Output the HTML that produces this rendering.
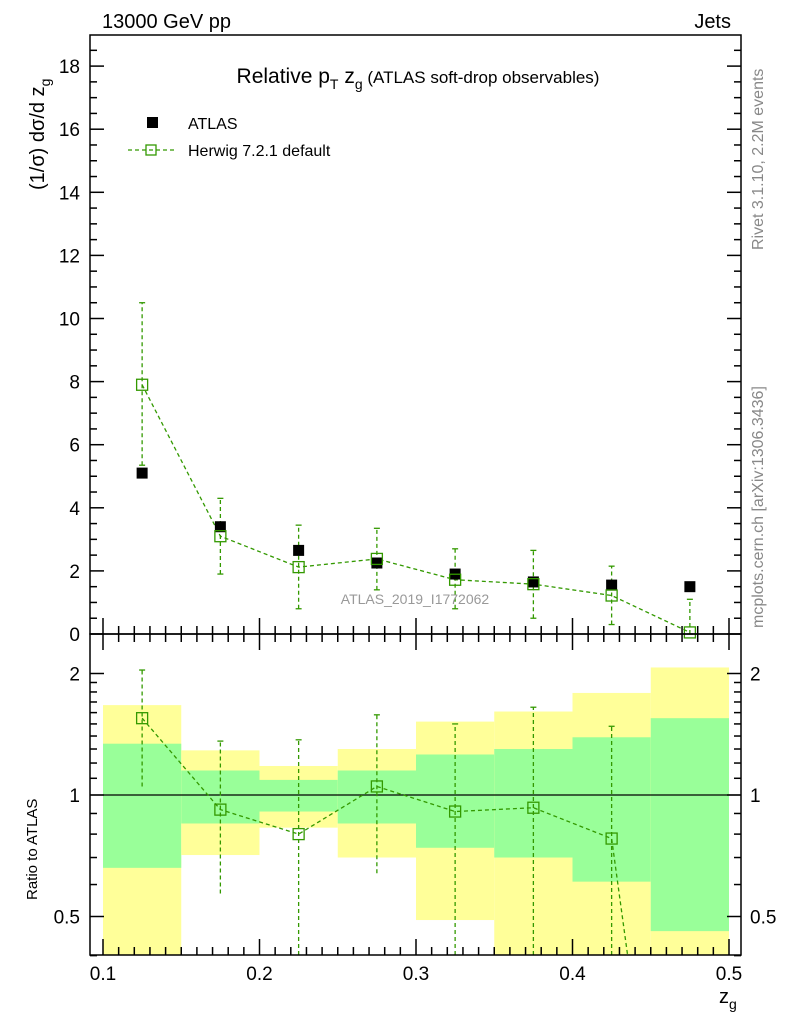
<!DOCTYPE html>
<html><head><meta charset="utf-8"><style>
html,body{margin:0;padding:0;background:#fff;width:786px;height:1024px;overflow:hidden;}
svg{font-family:"Liberation Sans",sans-serif;display:block;}
</style></head><body>
<svg id="c" width="786" height="1024" xmlns="http://www.w3.org/2000/svg">
<g id="bands"></g><g id="marks"></g><g id="rmarks"></g><g id="axes"></g>
<text x="102" y="28" font-size="20">13000 GeV pp</text>
<text x="731" y="28" font-size="20" text-anchor="end">Jets</text>
<text x="418" y="83" font-size="21" text-anchor="middle">Relative p<tspan font-size="14" dy="6">T</tspan><tspan dy="-6"> z</tspan><tspan font-size="14" dy="6">g</tspan><tspan font-size="17" dy="-6"> (ATLAS soft-drop observables)</tspan></text>
<rect x="147" y="117" width="11" height="11" fill="#000"/>
<text x="188" y="129" font-size="16">ATLAS</text>
<line x1="128" y1="150" x2="175" y2="150" stroke="#339900" stroke-width="1.3" stroke-dasharray="4,3"/>
<rect x="146" y="145" width="10" height="10" fill="none" stroke="#339900" stroke-width="1.3"/>
<text x="188" y="156" font-size="16">Herwig 7.2.1 default</text>
<text x="415" y="604" font-size="14" fill="#999" text-anchor="middle">ATLAS_2019_I1772062</text>
<text transform="translate(763,250) rotate(-90)" font-size="16" fill="#888">Rivet 3.1.10,  2.2M events</text>
<text transform="translate(763,628) rotate(-90)" font-size="16" fill="#888">mcplots.cern.ch [arXiv:1306.3436]</text>
<text transform="translate(44,190) rotate(-90)" font-size="20">(1/σ) dσ/d z<tspan font-size="14" dy="6">g</tspan></text>
<text transform="translate(37,900) rotate(-90)" font-size="15">Ratio to ATLAS</text>
<text x="719" y="1003" font-size="20">z<tspan font-size="14" dy="6">g</tspan></text>
</svg>
<script>
const xEdges=[0.1,0.15,0.2,0.25,0.3,0.35,0.4,0.45,0.5];
const atlasVals=[5.1,3.4,2.65,2.25,1.9,1.65,1.55,1.5];
const herwigVals=[7.9,3.1,2.12,2.38,1.72,1.58,1.22,0.05];
const herwigLo=[5.35,1.9,0.8,1.4,0.8,0.5,0.3,0];
const herwigHi=[10.5,4.3,3.45,3.35,2.7,2.65,2.15,1.1];
const yellowLo=[0.3,0.71,0.83,0.70,0.49,0.3,0.3,0.3];
const yellowHi=[1.67,1.29,1.18,1.30,1.52,1.61,1.79,2.07];
const greenLo=[0.66,0.85,0.91,0.85,0.74,0.70,0.61,0.46];
const greenHi=[1.34,1.15,1.09,1.15,1.26,1.30,1.39,1.55];
const ratioVals=[1.55,0.92,0.80,1.05,0.91,0.93,0.78,0.03];
const ratioLo=[1.05,0.57,0.3,0.64,0.3,0.3,0.3,0.3];
const ratioHi=[2.04,1.36,1.37,1.58,1.50,1.65,1.48,0.3];
const mainTicks=[0,2,4,6,8,10,12,14,16,18];
const xTicks=[0.1,0.2,0.3,0.4,0.5];
const ratioTicks=[0.5,1,2];

const NS="http://www.w3.org/2000/svg";
const L=90,R=741,T=35,MB=634,RB=955;
const X=v=>103+(v-0.1)*1565;
const Y=v=>634-v*31.55;
const RY=v=>795-Math.log2(v)*121.5;
const clampR=v=>Math.min(RB,Math.max(MB,RY(v)));
function mk(tag,at,parent){const e=document.createElementNS(NS,tag);for(const k in at)e.setAttribute(k,at[k]);document.getElementById(parent).appendChild(e);return e;}

for(let i=0;i<8;i++){
 const x1=X(xEdges[i]),x2=X(xEdges[i+1]);
 let r=mk('rect',{x:x1,y:clampR(yellowHi[i]),width:x2-x1,height:clampR(yellowLo[i])-clampR(yellowHi[i]),fill:'#ffff99'},'bands');
 
 
 r=mk('rect',{x:x1,y:clampR(greenHi[i]),width:x2-x1,height:clampR(greenLo[i])-clampR(greenHi[i]),fill:'#99ff99'},'bands');
 
 
}
mk('line',{x1:L,y1:RY(1),x2:R,y2:RY(1),stroke:'#000','stroke-width':1.2},'bands');

const G='#339900';
let pts=[],rraw=[];
for(let i=0;i<8;i++){
 const xc=X((xEdges[i]+xEdges[i+1])/2);
 pts.push(xc+','+Y(herwigVals[i]));
 rraw.push([xc,RY(ratioVals[i])]);
 let e=mk('line',{x1:xc,y1:Y(herwigLo[i]),x2:xc,y2:Y(herwigHi[i]),stroke:G,'stroke-width':1.3,'stroke-dasharray':'4,3'},'marks');
 
 
 mk('line',{x1:xc-3,y1:Y(herwigHi[i]),x2:xc+3,y2:Y(herwigHi[i]),stroke:G,'stroke-width':1.3},'marks');
 mk('line',{x1:xc-3,y1:Y(herwigLo[i]),x2:xc+3,y2:Y(herwigLo[i]),stroke:G,'stroke-width':1.3},'marks');
 const hy=clampR(ratioHi[i]);
 if(hy<RB){
  e=mk('line',{x1:xc,y1:clampR(ratioLo[i]),x2:xc,y2:hy,stroke:G,'stroke-width':1.3,'stroke-dasharray':'4,3'},'rmarks');
  
  
  mk('line',{x1:xc-3,y1:hy,x2:xc+3,y2:hy,stroke:G,'stroke-width':1.3},'rmarks');
 }
}
// clip ratio polyline at bottom of panel
let rpts=[];
for(let i=0;i<rraw.length;i++){
 const [x,y]=rraw[i];
 if(y<=RB){rpts.push(x+','+y);}
 else{
  if(i>0&&rraw[i-1][1]<=RB){const [px,py]=rraw[i-1];const t=(RB-py)/(y-py);rpts.push((px+t*(x-px))+','+RB);}
  break;
 }
}
let pl=mk('polyline',{points:pts.join(' '),fill:'none',stroke:G,'stroke-width':1.3,'stroke-dasharray':'4,3'},'marks');


pl=mk('polyline',{points:rpts.join(' '),fill:'none',stroke:G,'stroke-width':1.3,'stroke-dasharray':'4,3'},'rmarks');


for(let i=0;i<8;i++){
 const xc=X((xEdges[i]+xEdges[i+1])/2);
 let a=mk('rect',{x:xc-5.5,y:Y(atlasVals[i])-5.5,width:11,height:11,fill:'#000'},'marks');
 
 
 let h=mk('rect',{x:xc-5.5,y:Y(herwigVals[i])-5.5,width:11,height:11,fill:'none',stroke:G,'stroke-width':1.3},'marks');
 
 
 const ry=RY(ratioVals[i]);
 if(ry>MB&&ry<RB){
  let q=mk('rect',{x:xc-5.5,y:ry-5.5,width:11,height:11,fill:'none',stroke:G,'stroke-width':1.3},'rmarks');
  
  
 }
}

// axes
mk('rect',{x:L,y:T,width:R-L,height:MB-T,fill:'none',stroke:'#000','stroke-width':1.5},'axes');
mk('rect',{x:L,y:MB,width:R-L,height:RB-MB,fill:'none',stroke:'#000','stroke-width':1.5},'axes');
function tl(x1,y1,x2,y2,w){mk('line',{x1,y1,x2,y2,stroke:'#000','stroke-width':w||1.5},'axes');}
for(let v=0;v<=18.9;v+=0.5){const y=Y(v);if(y<T)continue;const big=Math.abs(v-Math.round(v/2)*2)<1e-6;const len=big?14:7;tl(L,y,L+len,y);tl(R,y,R-len,y);}
mainTicks.forEach(v=>{const t=mk('text',{x:80,y:Y(v)+7,'font-size':19,'text-anchor':'end'},'axes');t.textContent=v;});
for(let k=0;k<=41;k++){const v=0.1+k*0.01-0.01;const x=X(v);if(x<L||x>R)continue;const big=Math.abs(v*10-Math.round(v*10))<1e-6;const len=big?16:8;tl(x,MB,x,MB-len);tl(x,MB,x,MB+len);tl(x,RB,x,RB-len);}
xTicks.forEach(v=>{const t=mk('text',{x:X(v),y:980,'font-size':19,'text-anchor':'middle'},'axes');t.textContent=v;});
[0.4,0.5,0.6,0.7,0.8,0.9,1,2].forEach(v=>{const y=RY(v);const big=ratioTicks.includes(v);const len=big?14:7;tl(L,y,L+len,y);tl(R,y,R-len,y);});
[1.1,1.2,1.3,1.4,1.5,1.6,1.7,1.8,1.9].forEach(v=>{const y=RY(v);tl(L,y,L+7,y);tl(R,y,R-7,y);});
ratioTicks.forEach(v=>{let t=mk('text',{x:80,y:RY(v)+7,'font-size':19,'text-anchor':'end'},'axes');t.textContent=v;
t=mk('text',{x:750,y:RY(v)+7,'font-size':19},'axes');t.textContent=v;});
</script>
</body></html>
